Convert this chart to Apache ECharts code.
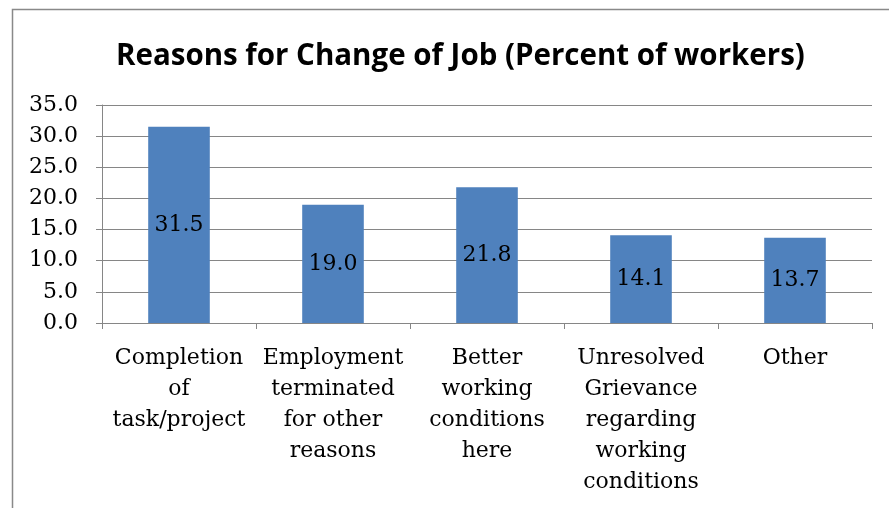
<!DOCTYPE html>
<html>
<head>
<meta charset="utf-8">
<script src="https://cdn.jsdelivr.net/npm/echarts@6/dist/echarts.min.js"></script>
<style>
  html, body { margin: 0; padding: 0; background: #fff; }
  #chart { width: 889px; height: 508px; }
</style>
</head>
<body>
<div id="chart"></div>
<script>
// Reasons people gave for their most recent change of job
const chartTitle = 'Reasons for Change of Job (Percent of workers)';
const categories = [
  'Completion\nof\ntask/project',
  'Employment\nterminated\nfor other\nreasons',
  'Better\nworking\nconditions\nhere',
  'Unresolved\nGrievance\nregarding\nworking\nconditions',
  'Other'
];
const percentValues = [31.5, 19.0, 21.8, 14.1, 13.7];
const yTicks = { min: 0, max: 35, step: 5 };

const serif = '"DejaVu Serif", "Liberation Serif", serif';

const chart = echarts.init(document.getElementById('chart'));
chart.setOption({
  animation: false,
  backgroundColor: '#fff',
  graphic: [{
    type: 'rect',
    shape: { x: 12.5, y: 9.5, width: 900, height: 520 },
    style: { fill: 'none', stroke: '#898989', lineWidth: 1.5 },
    silent: true
  }],
  title: {
    text: chartTitle,
    left: 111,
    top: 37,
    textStyle: {
      fontFamily: '"Open Sans", sans-serif',
      fontWeight: 'bold',
      fontSize: 29.5,
      color: '#000'
    }
  },
  grid: { left: 102, right: 17, top: 105, bottom: 185, containLabel: false },
  xAxis: {
    type: 'category',
    data: categories,
    axisLine: { lineStyle: { color: '#868686', width: 1 } },
    axisTick: { show: true, length: 6, lineStyle: { color: '#868686' } },
    axisLabel: {
      interval: 0,
      margin: 20,
      fontFamily: serif,
      fontSize: 22,
      lineHeight: 31,
      color: '#000',
      align: 'center'
    }
  },
  yAxis: {
    type: 'value',
    min: yTicks.min,
    max: yTicks.max,
    interval: yTicks.step,
    axisLine: { show: true, lineStyle: { color: '#868686' } },
    axisTick: { show: true, length: 6, lineStyle: { color: '#868686' } },
    splitLine: { lineStyle: { color: '#868686', width: 1 } },
    axisLabel: {
      margin: 24,
      fontFamily: serif,
      fontSize: 22,
      color: '#000',
      formatter: v => v.toFixed(1)
    }
  },
  series: [{
    type: 'bar',
    data: percentValues,
    barCategoryGap: '60%',
    itemStyle: { color: '#4F81BD' },
    label: {
      show: true,
      position: 'inside',
      fontFamily: serif,
      fontSize: 22,
      color: '#000',
      formatter: p => p.value.toFixed(1)
    }
  }]
});
</script>
</body>
</html>
